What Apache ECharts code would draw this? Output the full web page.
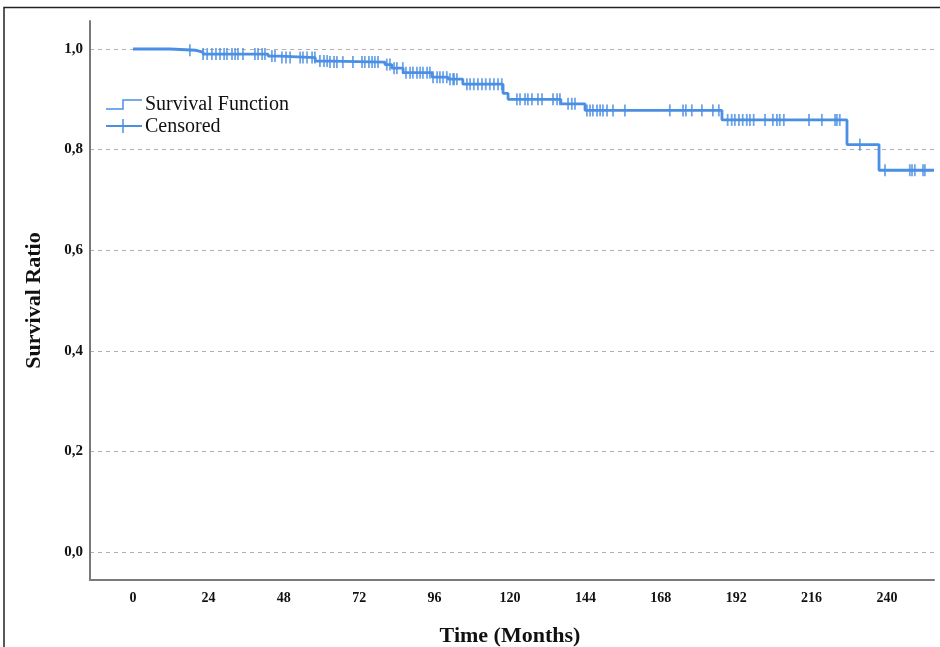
<!DOCTYPE html>
<html>
<head>
<meta charset="utf-8">
<script src="https://cdn.jsdelivr.net/npm/echarts@6/dist/echarts.min.js"></script>
<style>
  html, body { margin: 0; padding: 0; background: #fff; }
  #chart { width: 940px; height: 647px; }
</style>
</head>
<body>
<div id="chart"></div>
<script>
// Kaplan-Meier steps: time (months) where survival drops, and survival after it
const stepTimes = [0, 11.8, 20, 22.3, 43, 46.8, 58, 62.7, 80.2, 82.4, 86, 95.2, 100.3, 105, 117.8, 119.4, 136.2, 143.9, 187.5, 227.3, 237.5, 255]
const stepSurvival = [1.0, 0.9975, 0.994, 0.990, 0.986, 0.983, 0.976, 0.974, 0.969, 0.962, 0.953, 0.944, 0.940, 0.930, 0.912, 0.900, 0.891, 0.878, 0.859, 0.810, 0.759, 0.759]

// censored observations (months)
const censoredTimes = [
  18.1, 22.3, 23.6, 25.1, 26.4, 27.7, 29.0, 29.9, 31.5, 32.5, 33.4, 35.0, 38.8, 39.8, 41.1, 42.0,
  44.2, 45.2, 47.4, 48.7, 50.0, 53.2, 54.1, 55.4, 57.0, 57.9, 59.5, 60.8, 61.8, 62.7, 64.0, 64.9,
  66.8, 70.0, 72.9, 73.8, 75.1, 76.1, 77.0, 78.0, 80.8, 81.8, 83.1, 84.0, 85.9, 86.9, 88.2, 89.1,
  90.4, 91.4, 92.3, 93.6, 94.5, 95.5, 96.8, 97.7, 98.7, 99.9, 100.9, 101.9, 102.2, 103.1, 106.3,
  107.3, 108.5, 109.8, 111.1, 112.3, 113.6, 114.9, 116.2, 117.4, 122.2, 123.2, 124.8, 125.7, 127.0,
  128.9, 130.2, 133.7, 135.0, 135.9, 138.5, 139.7, 140.7, 144.5, 145.5, 146.4, 147.7, 148.7, 149.6,
  150.9, 152.8, 156.6, 170.9, 175.1, 176.0, 177.9, 181.1, 184.6, 186.5, 189.3, 190.6, 191.6, 192.9,
  194.1, 195.4, 196.4, 197.6, 201.2, 203.7, 205.0, 205.9, 207.2, 215.2, 219.3, 223.5, 224.1, 225.0,
  231.4, 239.4, 247.3, 248.0, 248.9, 251.5, 252.1
]

const xTickMin = 0
const xTickMax = 240
const xTickStep = 24
const yTickStep = 0.2

const BLUE = '#4a8fe3'
const SERIF = '"Liberation Serif", "DejaVu Serif", serif'

const curveData = stepTimes.map((t, i) => [t, stepSurvival[i]])

// survival at time t
function survivalAt (t) {
  let s = stepSurvival[0]
  for (let i = 0; i < stepTimes.length; i++) {
    if (stepTimes[i] <= t) s = stepSurvival[i]
  }
  return s
}
const censoredData = censoredTimes.map(t => [t, survivalAt(t)])

const chart = echarts.init(document.getElementById('chart'))

chart.setOption({
  animation: false,
  backgroundColor: '#fff',
  grid: [
    // 0: 0..1 band for y grid lines / labels
    { left: 90, right: 6, top: 49, bottom: 95, outerBoundsMode: 'none' },
    // 1: tick labels 0..240
    { left: 133, right: 53, top: 21, bottom: 67, outerBoundsMode: 'none' },
    // 2: plot area with axis lines and the data
    { left: 90, right: 6, top: 21, bottom: 67, outerBoundsMode: 'none' }
  ],
  xAxis: [
    { gridIndex: 0, type: 'value', min: -13.7, max: 255, show: false },
    {
      gridIndex: 1,
      type: 'value',
      min: xTickMin,
      max: xTickMax,
      interval: xTickStep,
      axisLine: { show: false },
      axisTick: { show: false },
      splitLine: { show: false },
      axisLabel: { margin: 11, color: '#111', fontFamily: SERIF, fontWeight: 'bold', fontSize: 14 },
      name: 'Time (Months)',
      nameLocation: 'middle',
      nameGap: 45,
      nameTextStyle: { color: '#111', fontFamily: SERIF, fontWeight: 'bold', fontSize: 22 }
    },
    {
      gridIndex: 2,
      type: 'value',
      min: -13.7,
      max: 255,
      axisLine: { show: true, onZero: false, lineStyle: { color: '#7a7a7a', width: 2 } },
      axisTick: { show: false },
      axisLabel: { show: false },
      splitLine: { show: false }
    }
  ],
  yAxis: [
    {
      gridIndex: 0,
      type: 'value',
      min: 0,
      max: 1,
      interval: yTickStep,
      axisLine: { show: false },
      axisTick: { show: false },
      axisLabel: {
        margin: 7,
        color: '#111',
        fontFamily: SERIF,
        fontWeight: 'bold',
        fontSize: 15,
        formatter: v => v.toFixed(1).replace('.', ',')
      },
      splitLine: { show: true, lineStyle: { color: '#b0b0b0', type: [4, 4], width: 1 } },
      name: 'Survival Ratio',
      nameLocation: 'middle',
      nameGap: 45,
      nameTextStyle: { color: '#111', fontFamily: SERIF, fontWeight: 'bold', fontSize: 22 }
    },
    { gridIndex: 1, type: 'value', min: 0, max: 1, show: false },
    {
      gridIndex: 2,
      type: 'value',
      min: -0.0557,
      max: 1.0557,
      axisLine: { show: true, onZero: false, lineStyle: { color: '#7a7a7a', width: 2 } },
      axisTick: { show: false },
      axisLabel: { show: false },
      splitLine: { show: false }
    }
  ],
  series: [
    {
      name: 'Survival Function',
      type: 'line',
      xAxisIndex: 2,
      yAxisIndex: 2,
      step: 'end',
      showSymbol: false,
      lineStyle: { color: BLUE, width: 2.8 },
      data: curveData
    },
    {
      name: 'Censored',
      type: 'scatter',
      xAxisIndex: 2,
      yAxisIndex: 2,
      symbol: 'rect',
      symbolSize: [1.8, 12],
      itemStyle: { color: BLUE },
      data: censoredData
    }
  ],
  graphic: [
    // frame around the figure
    { type: 'polyline', shape: { points: [[4, 647], [4, 7.5], [940, 7.5]] }, style: { stroke: '#222', lineWidth: 1.5, fill: null } },
    // legend
    { type: 'polyline', shape: { points: [[106, 109], [123, 109], [123, 100], [142, 100]] }, style: { stroke: BLUE, lineWidth: 1.5, fill: null } },
    { type: 'text', left: 145, top: 95, style: { text: 'Survival Function', fill: '#111', font: '20px ' + SERIF } },
    { type: 'line', shape: { x1: 106, y1: 126, x2: 142, y2: 126 }, style: { stroke: BLUE, lineWidth: 2 } },
    { type: 'line', shape: { x1: 123, y1: 119, x2: 123, y2: 133 }, style: { stroke: BLUE, lineWidth: 1.5 } },
    { type: 'text', left: 145, top: 117, style: { text: 'Censored', fill: '#111', font: '20px ' + SERIF } }
  ]
})
</script>
</body>
</html>
